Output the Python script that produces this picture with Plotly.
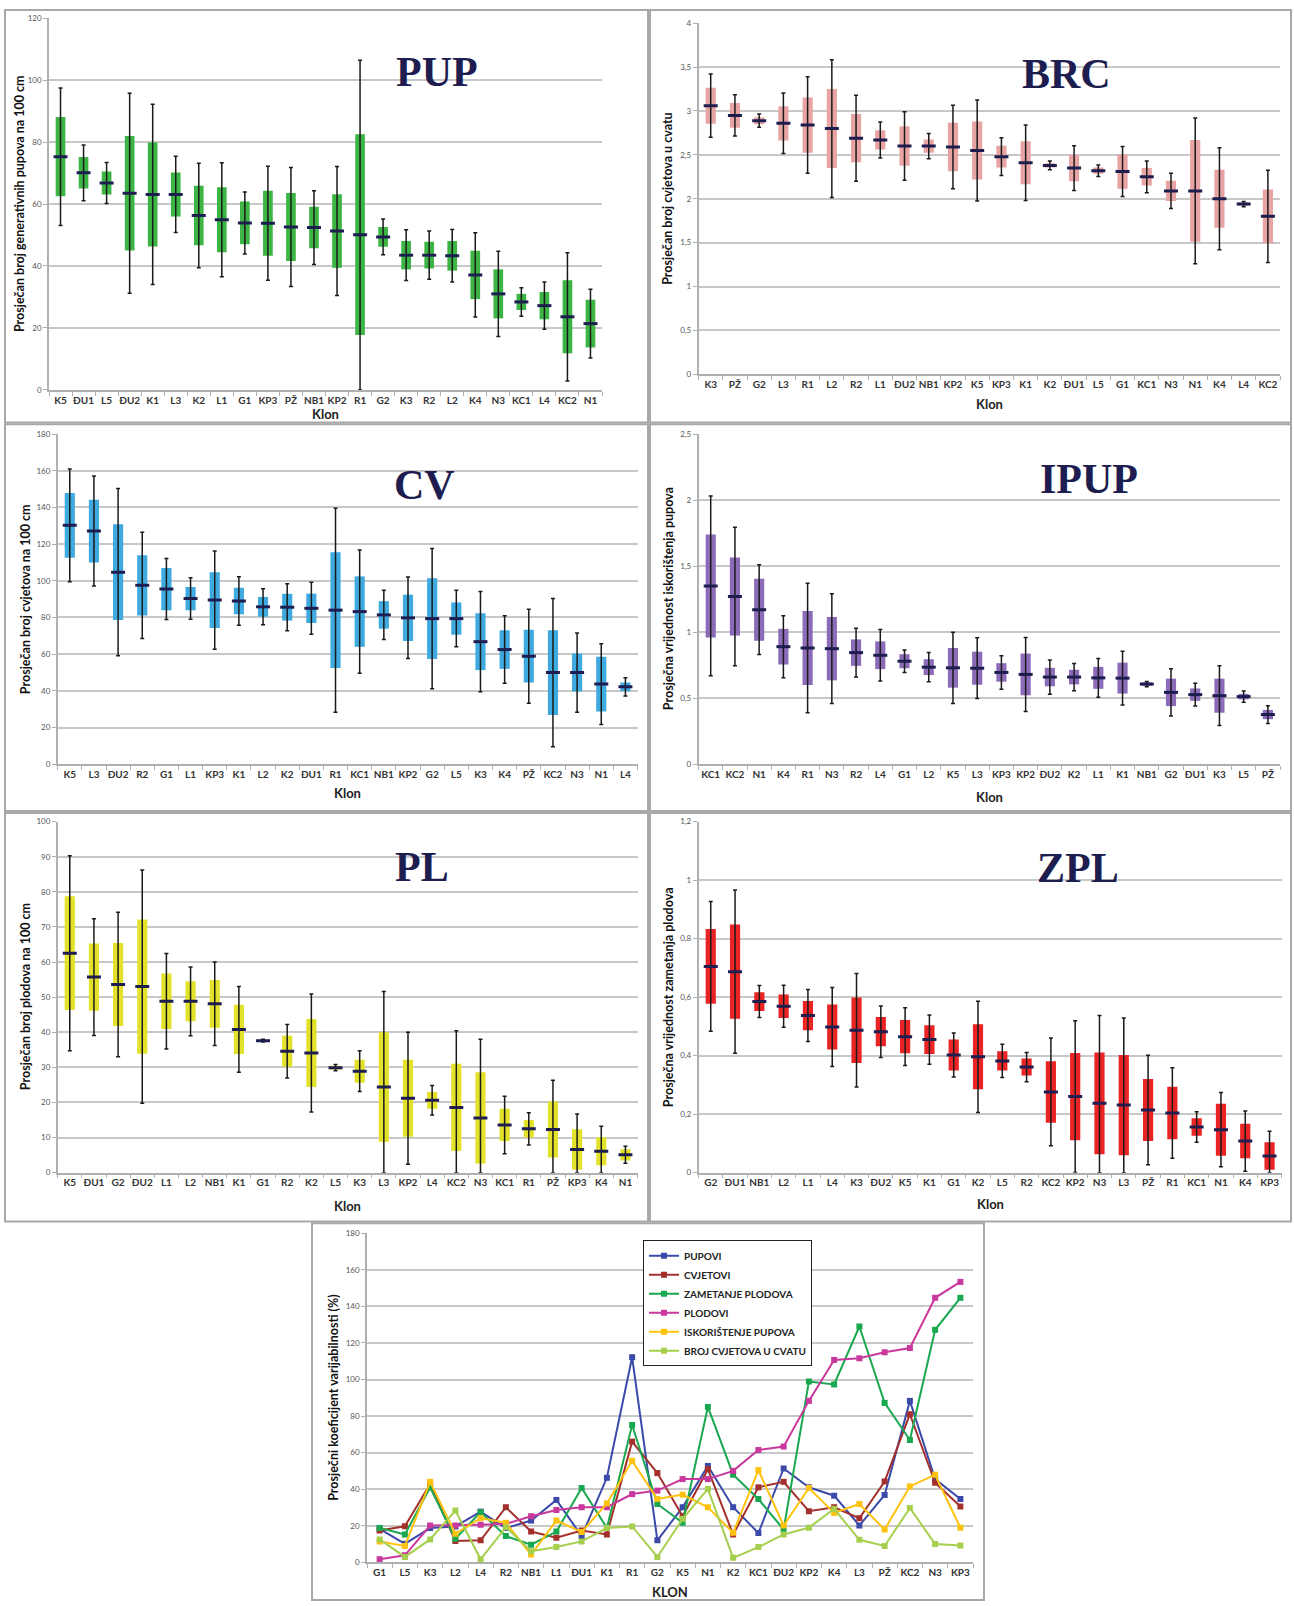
import plotly.graph_objects as go

# ---------------- DATA ----------------
pup_klon = ["K5", "ĐU1", "L5", "ĐU2", "K1", "L3", "K2", "L1", "G1", "KP3", "PŽ", "NB1",
            "KP2", "R1", "G2", "K3", "R2", "L2", "K4", "N3", "KC1", "L4", "KC2", "N1"]
pup_mean = [75.3, 70.1, 66.8, 63.5, 63.1, 63.1, 56.3, 54.9, 53.9, 53.8, 52.6, 52.4,
            51.3, 50.1, 49.4, 43.5, 43.5, 43.3, 37.1, 31.0, 28.4, 27.2, 23.6, 21.4]
pup_sd = [12.8, 5.1, 3.7, 18.5, 16.8, 7.1, 9.6, 10.5, 6.9, 10.5, 11.0, 6.7,
          11.9, 32.4, 3.2, 4.6, 4.3, 4.8, 7.8, 7.9, 2.6, 4.4, 11.8, 7.7]
pup_err = [22.2, 9.0, 6.6, 32.3, 29.1, 12.3, 16.9, 18.4, 10.0, 18.4, 19.2, 11.9,
           20.8, 56.3, 5.8, 8.2, 7.8, 8.5, 13.6, 13.8, 4.6, 7.6, 20.7, 11.1]

brc_klon = ["K3", "PŽ", "G2", "L3", "R1", "L2", "R2", "L1", "ĐU2", "NB1", "KP2", "K5",
            "KP3", "K1", "K2", "ĐU1", "L5", "G1", "KC1", "N3", "N1", "K4", "L4", "KC2"]
brc_mean = [3.06, 2.95, 2.89, 2.86, 2.84, 2.80, 2.69, 2.67, 2.60, 2.60, 2.59, 2.55,
            2.48, 2.41, 2.38, 2.35, 2.32, 2.31, 2.25, 2.09, 2.09, 2.00, 1.94, 1.80]
brc_sd = [0.205, 0.14, 0.04, 0.195, 0.315, 0.45, 0.275, 0.11, 0.225, 0.075, 0.275, 0.33,
          0.125, 0.245, 0.025, 0.15, 0.035, 0.195, 0.10, 0.115, 0.58, 0.33, 0.02, 0.305]
brc_err = [0.36, 0.235, 0.075, 0.345, 0.55, 0.785, 0.49, 0.205, 0.39, 0.145, 0.475, 0.575,
           0.215, 0.43, 0.05, 0.255, 0.065, 0.285, 0.18, 0.20, 0.83, 0.58, 0.03, 0.525]

cv_klon = ["K5", "L3", "ĐU2", "R2", "G1", "L1", "KP3", "K1", "L2", "K2", "ĐU1", "R1",
           "KC1", "NB1", "KP2", "G2", "L5", "K3", "K4", "PŽ", "KC2", "N3", "N1", "L4"]
cv_mean = [130.2, 127.1, 104.7, 97.5, 95.5, 90.3, 89.5, 89.0, 85.8, 85.6, 85.0, 84.0,
           83.2, 81.4, 79.8, 79.4, 79.4, 66.8, 62.5, 58.9, 50.0, 50.0, 43.7, 42.2]
cv_sd = [17.6, 17.1, 26.1, 16.4, 11.5, 6.3, 15.2, 7.2, 5.4, 7.3, 8.0, 31.6,
         19.2, 7.5, 12.6, 22.0, 8.8, 15.5, 10.5, 14.4, 23.1, 10.4, 14.9, 2.4]
cv_err = [30.7, 30.0, 45.6, 28.9, 16.6, 11.3, 26.8, 13.2, 9.8, 12.8, 14.2, 55.6,
          33.6, 13.4, 22.2, 38.2, 15.4, 27.3, 18.4, 25.6, 40.4, 21.6, 22.0, 5.0]

ipup_klon = ["KC1", "KC2", "N1", "K4", "R1", "N3", "R2", "L4", "G1", "L2", "K5", "L3",
             "KP3", "KP2", "ĐU2", "K2", "L1", "K1", "NB1", "G2", "ĐU1", "K3", "L5", "PŽ"]
ipup_mean = [1.35, 1.27, 1.17, 0.89, 0.88, 0.875, 0.845, 0.825, 0.78, 0.735, 0.73, 0.727,
             0.695, 0.68, 0.66, 0.66, 0.654, 0.652, 0.607, 0.544, 0.527, 0.519, 0.512, 0.376]
ipup_sd = [0.39, 0.295, 0.235, 0.135, 0.28, 0.24, 0.10, 0.105, 0.053, 0.06, 0.15, 0.125,
           0.07, 0.158, 0.07, 0.055, 0.083, 0.117, 0.013, 0.104, 0.047, 0.129, 0.021, 0.035]
ipup_err = [0.68, 0.525, 0.34, 0.235, 0.49, 0.415, 0.185, 0.195, 0.085, 0.11, 0.27, 0.23,
            0.127, 0.28, 0.13, 0.103, 0.147, 0.204, 0.02, 0.179, 0.087, 0.226, 0.043, 0.067]

pl_klon = ["K5", "ĐU1", "G2", "ĐU2", "L1", "L2", "NB1", "K1", "G1", "R2", "K2", "L5",
           "K3", "L3", "KP2", "L4", "KC2", "N3", "KC1", "R1", "PŽ", "KP3", "K4", "N1"]
pl_mean = [62.5, 55.7, 53.6, 53.0, 48.8, 48.8, 48.1, 40.8, 37.6, 34.6, 34.1, 29.9,
           28.9, 24.4, 21.2, 20.6, 18.6, 15.6, 13.6, 12.5, 12.3, 6.6, 6.1, 5.1]
pl_sd = [16.2, 9.6, 11.8, 19.1, 7.9, 5.7, 6.8, 7.0, 0.3, 4.4, 9.7, 0.55,
         3.3, 15.6, 11.0, 2.4, 12.4, 13.0, 4.6, 2.5, 8.0, 5.8, 4.0, 1.6]
pl_err = [27.8, 16.6, 20.6, 33.2, 13.6, 9.8, 11.9, 12.2, 0.4, 7.6, 16.8, 0.9,
          5.8, 27.2, 18.8, 4.2, 21.8, 22.4, 8.2, 4.6, 14.0, 10.1, 7.1, 2.4]

zpl_klon = ["G2", "ĐU1", "NB1", "L2", "L1", "L4", "K3", "ĐU2", "K5", "K1", "G1", "K2",
            "L5", "R2", "KC2", "KP2", "N3", "L3", "PŽ", "R1", "KC1", "N1", "K4", "KP3"]
zpl_mean = [0.705, 0.687, 0.585, 0.569, 0.537, 0.498, 0.487, 0.482, 0.465, 0.455, 0.402, 0.396,
            0.382, 0.361, 0.276, 0.260, 0.237, 0.231, 0.214, 0.204, 0.156, 0.147, 0.108, 0.057]
zpl_sd = [0.128, 0.161, 0.032, 0.04, 0.05, 0.077, 0.112, 0.05, 0.057, 0.049, 0.053, 0.111,
          0.033, 0.029, 0.105, 0.149, 0.174, 0.171, 0.106, 0.09, 0.03, 0.089, 0.059, 0.047]
zpl_err = [0.222, 0.279, 0.055, 0.072, 0.089, 0.135, 0.194, 0.088, 0.099, 0.084, 0.075, 0.19,
           0.057, 0.05, 0.184, 0.259, 0.30, 0.298, 0.187, 0.155, 0.052, 0.127, 0.103, 0.085]

kv_klon = ["G1", "L5", "K3", "L2", "L4", "R2", "NB1", "L1", "ĐU1", "K1", "R1", "G2",
           "K5", "N1", "K2", "KC1", "ĐU2", "KP2", "K4", "L3", "PŽ", "KC2", "N3", "KP3"]
kv_pupovi = [18.3, 10.1, 18.7, 19.6, 27.7, 18.7, 22.8, 34.1, 14.3, 46.2, 112.2, 12.0,
             30.1, 52.7, 30.1, 16.0, 51.3, 41.0, 36.4, 20.1, 36.8, 88.3, 45.5, 34.6]
kv_cvjetovi = [17.4, 19.7, 42.8, 11.6, 12.0, 30.1, 16.8, 13.4, 17.4, 15.2, 66.0, 48.8,
               25.2, 50.9, 15.2, 41.0, 44.0, 27.9, 30.1, 24.1, 44.2, 81.0, 43.5, 30.5]
kv_zametanje = [18.8, 15.2, 40.9, 12.9, 27.4, 14.3, 9.6, 16.8, 40.6, 18.8, 75.1, 31.9,
                21.6, 85.0, 47.9, 34.6, 17.9, 98.9, 97.3, 129.0, 87.2, 66.9, 127.2, 144.7]
kv_plodovi = [1.6, 3.8, 20.1, 20.1, 20.5, 21.0, 25.2, 28.6, 30.1, 30.1, 37.3, 39.2,
              45.5, 45.5, 50.0, 61.4, 63.3, 88.3, 110.7, 111.6, 114.9, 117.2, 144.7, 153.4]
kv_iskoristenje = [11.4, 8.9, 44.0, 15.6, 24.1, 21.6, 4.2, 22.8, 16.5, 32.2, 55.5, 34.6,
                   37.0, 30.1, 16.1, 50.4, 20.1, 40.6, 27.0, 31.9, 17.9, 41.5, 47.9, 18.9]
kv_broj_cvjetova = [12.5, 2.9, 12.5, 28.3, 1.6, 19.2, 6.0, 8.3, 11.4, 18.7, 19.6, 2.9,
                    23.7, 40.1, 2.4, 8.3, 15.2, 18.9, 29.2, 12.3, 8.9, 29.7, 10.0, 9.2]
kv_names = ["PUPOVI", "CVJETOVI", "ZAMETANJE PLODOVA", "PLODOVI",
            "ISKORIŠTENJE PUPOVA", "BROJ CVJETOVA U CVATU"]

# ---------------- LAYOUT HELPERS ----------------
W, H = 1294, 1606


def fx(p):
    return p / W


def fy(p):
    return 1 - p / H


FONT = "Lato"
NAVY = "#1d1d50"
WHISK = "#1a1a1a"
GRID = "#c8c8c8"
AXIS = "#b0b0b0"

panels = [
    dict(title="PUP", cats=pup_klon, mean=pup_mean, sd=pup_sd, err=pup_err, color="#3cb544",
         ytitle="Prosječan broj generativnih pupova na 100 cm", ymax=120, dtick=20,
         box=(49, 602, 13.3, 387.3), tpos=(437, 67), ytx=19, klon_y=412),
    dict(title="BRC", cats=brc_klon, mean=brc_mean, sd=brc_sd, err=brc_err, color="#e8a3a3",
         ytitle="Prosječan broj cvjetova u cvatu", ymax=4, dtick=0.5,
         box=(698.6, 1280, 18.3, 371.7), tpos=(1066, 69), ytx=668, klon_y=402),
    dict(title="CV", cats=cv_klon, mean=cv_mean, sd=cv_sd, err=cv_err, color="#3eaae0",
         ytitle="Prosječan broj cvjetova na 100 cm", ymax=180, dtick=20,
         box=(57.7, 637.5, 431.7, 764), tpos=(424, 483), ytx=25, klon_y=793),
    dict(title="IPUP", cats=ipup_klon, mean=ipup_mean, sd=ipup_sd, err=ipup_err, color="#8c6cb8",
         ytitle="Prosječna vrijednost iskorištenja pupova", ymax=2.5, dtick=0.5,
         box=(698.6, 1280, 431.7, 764), tpos=(1089, 477), ytx=668, klon_y=797),
    dict(title="PL", cats=pl_klon, mean=pl_mean, sd=pl_sd, err=pl_err, color="#e2e22a",
         ytitle="Prosječan broj plodova na 100 cm", ymax=100, dtick=10,
         box=(57.7, 637.5, 821.7, 1175), tpos=(422, 867), ytx=25, klon_y=1209),
    dict(title="ZPL", cats=zpl_klon, mean=zpl_mean, sd=zpl_sd, err=zpl_err, color="#ea2424",
         ytitle="Prosječna vrijednost zametanja plodova", ymax=1.2, dtick=0.2,
         box=(698.6, 1281.7, 821.7, 1175), tpos=(1078, 868), ytx=668, klon_y=1207),
]

fig = go.Figure()
layout = dict(
    width=W, height=H, autosize=False,
    margin=dict(l=0, r=0, t=0, b=0),
    paper_bgcolor="white", plot_bgcolor="white",
    separators=", ",
    showlegend=True,
    font=dict(family=FONT, color="#222"),
)
annotations = []
shapes = []


def axis_pair(i, cats, box, ymax, dtick):
    x0, x1, y0, y1 = box
    xa = dict(domain=[fx(x0), fx(x1)], anchor=f"y{i}", type="category",
              categoryorder="array", categoryarray=cats, range=[-0.5, len(cats) - 0.5],
              showline=True, linecolor=AXIS, linewidth=1.5, ticks="outside",
              tickson="boundaries", ticklen=4, tickcolor=AXIS, tickangle=0,
              tickfont=dict(family=FONT, size=10, color="#333", weight="bold"),
              showgrid=False, fixedrange=True)
    ya = dict(domain=[fy(y1), fy(y0)], anchor=f"x{i}", range=[0, ymax], dtick=dtick,
              tick0=0, showgrid=True, gridcolor=GRID, gridwidth=1.5, showline=True,
              linecolor=AXIS, linewidth=1.5, ticks="outside", ticklen=4, tickcolor=AXIS,
              tickfont=dict(family=FONT, size=8, color="#555"), zeroline=False,
              fixedrange=True)
    layout["xaxis" if i == 1 else f"xaxis{i}"] = xa
    layout["yaxis" if i == 1 else f"yaxis{i}"] = ya


for i, p in enumerate(panels, start=1):
    xr = "x" if i == 1 else f"x{i}"
    yr = "y" if i == 1 else f"y{i}"
    axis_pair(i, p["cats"], p["box"], p["ymax"], p["dtick"])
    fig.add_trace(go.Bar(
        x=p["cats"], y=[2 * s for s in p["sd"]],
        base=[m - s for m, s in zip(p["mean"], p["sd"])],
        width=0.42, marker=dict(color=p["color"], line=dict(width=0)),
        xaxis=xr, yaxis=yr, showlegend=False, hoverinfo="skip"))
    fig.add_trace(go.Scatter(
        x=p["cats"], y=p["mean"], mode="markers",
        marker=dict(symbol="line-ew", size=10, color=NAVY, line=dict(color=NAVY, width=3)),
        error_y=dict(type="data", symmetric=False, array=p["err"],
                     arrayminus=[min(e, m) for m, e in zip(p["mean"], p["err"])],
                     color=WHISK, thickness=1.5, width=2),
        xaxis=xr, yaxis=yr, showlegend=False, hoverinfo="skip"))
    x0, x1, y0, y1 = p["box"]
    annotations.append(dict(text=p["title"], x=fx(p["tpos"][0]), y=fy(p["tpos"][1]),
                            xref="paper", yref="paper", showarrow=False,
                            xanchor="center", yanchor="middle",
                            font=dict(family="Liberation Serif", size=42, color=NAVY,
                                      weight="bold")))
    annotations.append(dict(text=p["ytitle"], x=fx(p["ytx"]), y=fy((y0 + y1) / 2),
                            xref="paper", yref="paper", showarrow=False, textangle=-90,
                            xanchor="center", yanchor="middle",
                            font=dict(family=FONT, size=12.5, color="#111", weight="bold")))
    annotations.append(dict(text="Klon", x=fx((x0 + x1) / 2), y=fy(p["klon_y"]),
                            xref="paper", yref="paper", showarrow=False,
                            xanchor="center", yanchor="middle",
                            font=dict(family=FONT, size=13, color="#222", weight="bold")))

# ---------------- bottom line chart ----------------
i = 7
kv_box = (367, 973, 1236, 1567)
axis_pair(i, kv_klon, kv_box, 180, 20)
kv_series = [kv_pupovi, kv_cvjetovi, kv_zametanje, kv_plodovi, kv_iskoristenje, kv_broj_cvjetova]
kv_colors = ["#3b4aa8", "#a3302c", "#19a84f", "#c9389c", "#ffc20e", "#a6cf4d"]
for name, vals, col in zip(kv_names, kv_series, kv_colors):
    fig.add_trace(go.Scatter(
        x=kv_klon, y=vals, name=name, mode="lines+markers",
        line=dict(color=col, width=2),
        marker=dict(symbol="square", size=6, color=col),
        xaxis="x7", yaxis="y7", hoverinfo="skip"))

x0, x1, y0, y1 = kv_box
annotations.append(dict(text="Prosječni koeficijent varijabilnosti (%)", x=fx(334),
                        y=fy((y0 + y1) / 2), xref="paper", yref="paper", showarrow=False,
                        textangle=-90, xanchor="center", yanchor="middle",
                        font=dict(family=FONT, size=12.5, color="#111", weight="bold")))
annotations.append(dict(text="KLON", x=fx((x0 + x1) / 2), y=fy(1597), xref="paper",
                        yref="paper", showarrow=False, xanchor="center", yanchor="middle",
                        font=dict(family=FONT, size=13, color="#222", weight="bold")))

layout["legend"] = dict(x=fx(643), y=fy(1243), xanchor="left", yanchor="top",
                        bordercolor="#222", borderwidth=1, bgcolor="white",
                        font=dict(family=FONT, size=10, color="#222", weight="bold"),
                        tracegroupgap=0, itemwidth=30)

# panel frames
frames = [(5, 648, 5, 420), (650, 1291, 5, 420), (5, 648, 422, 811), (650, 1291, 422, 811),
          (5, 648, 813, 1224), (650, 1291, 813, 1224), (312, 984, 1226, 1605)]
for a, b, c, d in frames:
    shapes.append(dict(type="rect", xref="paper", yref="paper", x0=fx(a), x1=fx(b),
                       y0=fy(d), y1=fy(c), line=dict(color="#a8a8a8", width=2),
                       fillcolor="rgba(0,0,0,0)", layer="above"))

layout["annotations"] = annotations
layout["shapes"] = shapes
fig.update_layout(**layout)

fig.write_html("out.html", config={"displayModeBar": False},
               post_script="document.body.style.margin='0px';")
